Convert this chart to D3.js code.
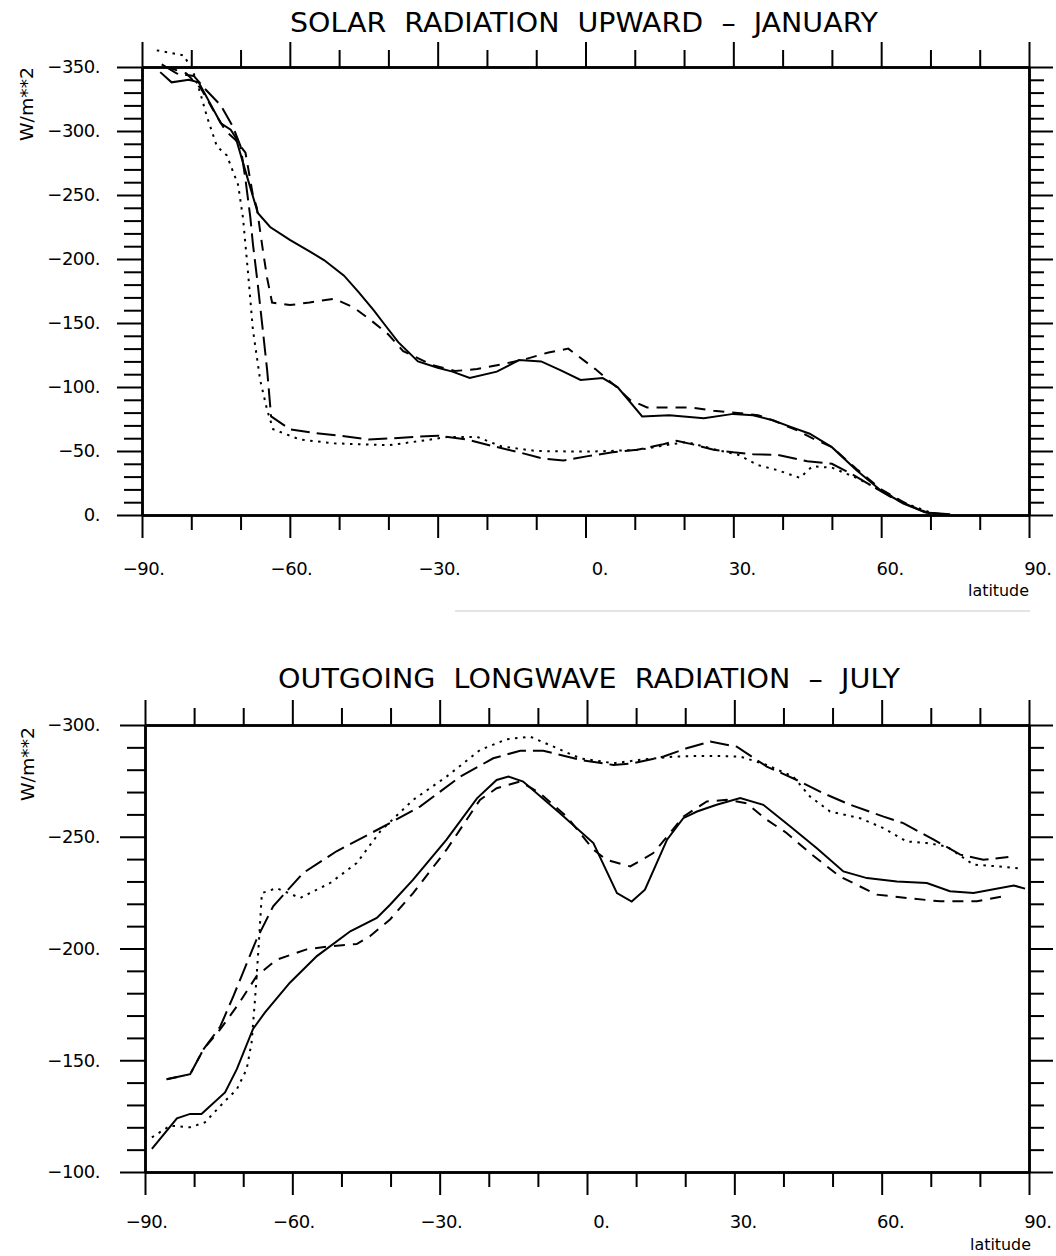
<!DOCTYPE html>
<meta charset="utf-8">

<style>
body{
	background-color: #fff;
	margin: 0px;
}
svg{ display: block; }
text{
	font-family: "DejaVu Sans", sans-serif;
	fill: #000;
}
.axis path, .axis line{
	stroke: #000;
}
</style>

<body></body>

<script src="https://cdn.jsdelivr.net/npm/d3@7/dist/d3.min.js"></script>

<script>

var width = 1056,
		height = 1256

// latitude ticks (shared by both panels)
var latMajor = [-90, -60, -30, 0, 30, 60, 90]
var latMinor = [-80, -70, -50, -40, -20, -10, 10, 20, 40, 50, 70, 80]

// ---- panel 1: solar radiation upward, january  [latitude, W/m**2]
var swMajor = [0, -50, -100, -150, -200, -250, -300, -350]

var swSolid = [[-86.3,-346],[-84,-338],[-80.5,-340],[-78.5,-338],[-74,-306],[-72,-301],[-71,-295],
	[-68.5,-262],[-66.5,-236],[-64,-225],[-60,-215],[-56,-206],[-53,-199],[-49,-187],[-46,-174],
	[-43,-160],[-41,-150],[-38,-135],[-34,-120],[-30,-115],[-27,-112],[-23.5,-107],[-18,-112],
	[-13.5,-121],[-9,-120],[-5,-113],[-1,-105.5],[3.5,-107],[6.5,-100],[11.5,-77],[17,-78],
	[24,-75.5],[30,-79],[34,-78],[38,-74],[41.5,-69],[45.5,-63.5],[50,-53],[55,-35],[60,-19],
	[64.5,-9],[69,-2],[74,-0.5]]

var swShort = [[-85,-350],[-81,-345],[-78,-333],[-75.5,-316],[-73,-300],[-71,-293],[-69,-283],
	[-67.5,-250],[-66.7,-240],[-65.4,-205],[-64.6,-185],[-63.6,-166],[-60,-164],[-56,-166],
	[-51,-169],[-47,-162],[-43.5,-152],[-40,-141],[-37,-128],[-31,-117],[-26.5,-112.5],[-22,-114],
	[-16,-118.5],[-12,-122],[-7.5,-127],[-3.5,-130],[2,-114],[6,-101],[9,-90],[12.5,-84],[16,-84],
	[21.5,-84],[26,-81.5],[31.5,-79.5],[35,-78],[38,-74],[43,-66],[46,-60],[50,-53],[55,-36],
	[60,-20],[65,-9],[69,-2],[73,-0.5]]

var swLong = [[-86,-352],[-83,-345],[-79.5,-343],[-77,-332],[-74,-320],[-71.5,-303],[-70,-288],
	[-69,-262],[-68,-232],[-67.5,-212],[-66.5,-180],[-65.5,-145],[-64.6,-113],[-63.8,-77],[-60,-67],
	[-55,-64],[-50,-62],[-44,-59],[-39,-60],[-35,-61],[-30,-62],[-24,-59],[-19,-54],[-13.5,-49],
	[-8.5,-44],[-4.5,-42.5],[0.5,-46],[5.5,-49],[10.5,-51],[15.5,-55],[18.5,-58],[22,-55],[26,-51],
	[30,-49],[34,-47.5],[39,-47],[45,-42],[50,-40],[54,-32],[58,-23],[62,-14],[66,-7],[70,-1]]

var swDot = [[-87,-363],[-81.5,-359],[-79.6,-346],[-78.2,-330],[-76.8,-311],[-74.8,-288],[-72.8,-281],
	[-70.5,-258],[-69.5,-232],[-68.5,-190],[-67.5,-145],[-66,-105],[-64.6,-82],[-63.4,-67],[-58,-59],
	[-51,-56],[-44,-55],[-40,-54.5],[-32,-58.6],[-28,-61],[-22,-61],[-17,-53.5],[-10,-50],[0,-49.5],
	[5,-50],[11,-51],[17,-55],[20.5,-57],[26.5,-51],[31,-47],[35,-39],[39,-35],[43.5,-29],[46,-38],
	[50,-37],[55,-29],[60,-19],[65,-9],[70,-2]]

// ---- panel 2: outgoing longwave radiation, july  [latitude, W/m**2]
var lwMajor = [-100, -150, -200, -250, -300]

var lwSolid = [[-88.6,-110.3],[-83.5,-124],[-80.8,-126],[-78.5,-126],[-73.7,-135.6],[-71.3,-146],
	[-68,-164],[-65.6,-171.3],[-60.5,-184.7],[-55,-196.6],[-48.2,-207.7],[-42.8,-213.7],[-40.1,-219.6],
	[-35.4,-230.8],[-28.6,-248.7],[-22.4,-267.2],[-18.4,-275.4],[-16,-276.9],[-13,-274.7],[-5.5,-260.5],
	[1.3,-247.2],[6.1,-224.8],[9.1,-221],[11.8,-226.3],[16.3,-248.7],[19.6,-258.3],[22.4,-261.3],
	[26.4,-264.3],[31.2,-267.3],[35.9,-264.3],[41.4,-254.6],[46.8,-244.9],[52.2,-234.5],[57,-231.5],
	[63.1,-230],[69.2,-229.3],[73.9,-225.6],[78.7,-224.8],[86.9,-228.2],[89.2,-226.8]]

var lwShort = [[-85.6,-141.5],[-80.8,-143.8],[-78.1,-154.9],[-74.7,-163.8],[-71,-175],[-67.3,-187.6],
	[-63.2,-195],[-57.1,-199.6],[-52.3,-201],[-46.9,-202],[-44.2,-205.5],[-40.1,-213],[-35.4,-224.8],
	[-28.6,-244.2],[-21.8,-266.5],[-18.4,-271.7],[-13.6,-274.7],[-9.6,-269.5],[-4.1,-259],[1.3,-244.2],
	[4,-239.7],[8.8,-236.7],[13.5,-242.7],[16.9,-251.6],[19.6,-259],[24.4,-265.8],[28.5,-266.5],
	[32.5,-265],[36.6,-257.6],[40.7,-251.6],[45.4,-242.7],[51.5,-232.2],[59,-224.1],[65.1,-222.6],
	[71.9,-221.1],[79.4,-221.1],[84.8,-223.4]]

var lwLong = [[-85.6,-141.5],[-80.8,-143.8],[-78.1,-154.9],[-74.7,-165],[-72,-178.7],[-67.3,-204],
	[-63.9,-218.9],[-57.8,-233.8],[-51,-243.5],[-42.1,-253.8],[-34,-263.5],[-25.8,-276.9],[-19.1,-285.1],
	[-13.6,-288.5],[-8.9,-288.5],[-1.4,-284.4],[5.4,-282.1],[9.5,-282.9],[15.6,-285.9],[20.3,-289.6],
	[25.1,-292.6],[30.5,-290.3],[36.6,-281.4],[42.7,-275.4],[48.1,-269.5],[53.6,-264.3],[60.4,-259],
	[64.4,-256.1],[70.6,-248.7],[76,-242],[80.7,-239.7],[85.8,-240.9]]

var lwDot = [[-88.6,-115.5],[-84.9,-120.7],[-80.8,-120],[-77.8,-122.2],[-74,-131.1],[-71.3,-137],
	[-69.3,-146],[-68.3,-157.9],[-67.6,-177.2],[-66.9,-199.6],[-66.2,-224.8],[-63.2,-227],[-58.4,-222.6],
	[-52.3,-229.3],[-46.9,-238.2],[-42.1,-252.4],[-35.4,-266.5],[-28.6,-276.9],[-21.8,-288.8],
	[-16.4,-293.6],[-11.6,-294.8],[-6.8,-290.3],[-1.4,-285.1],[5.4,-282.9],[10.8,-284.4],[17.6,-285.9],
	[24.4,-286.2],[31.2,-285.9],[36.6,-282.1],[42,-276.9],[45.4,-268],[49.5,-261.3],[55.6,-258.3],
	[60.4,-253.8],[65.1,-247.9],[69.2,-247.2],[73.3,-245.6],[78.7,-237.5],[84.1,-236.7],[88.5,-235.7]]

// solid, short dash, long dash, dotted
var dashes = [null, '11,8', '19,7', '2.5,5.5']


var svg = d3.select('body')
	.append('svg')
		.attr('width', width)
		.attr('height', height)

function fmt(v){
	return (v < 0 ? '\u2212' : '') + Math.abs(v) + '.'
}

function drawPanel(p){
	var x = d3.scaleLinear().domain([-90, 90]).range([p.left, p.right])
	var y = d3.scaleLinear().domain(p.yDomain).range([p.bottom, p.top])
	var yMinor = d3.range(p.yDomain[1], p.yDomain[0] + 1, 10).filter(function(v){ return v % 50 != 0 })

	var g = svg.append('g')

	var line = d3.line()
		.x(function(d){ return x(d[0]) })
		.y(function(d){ return y(d[1]) })

	p.series.forEach(function(s, i){
		g.append('path')
			.attr('d', line(s))
			.attr('fill', 'none')
			.attr('stroke', '#000')
			.attr('stroke-width', 2)
			.attr('stroke-dasharray', dashes[i])
	})

	function axis(a, tr, size, labels){
		var ax = g.append('g').attr('class', 'axis').attr('transform', tr)
			.call(a.tickSize(size).tickSizeOuter(0).tickFormat(labels ? fmt : ''))
		ax.selectAll('line').attr('stroke-width', 2)
		ax.select('.domain').attr('stroke-width', 2.5)
		ax.selectAll('text').attr('font-size', 18).attr('letter-spacing', -0.5)
		return ax
	}

	// left
	axis(d3.axisLeft(y).tickValues(yMinor), 'translate(' + p.left + ',0)', 18, false)
	axis(d3.axisLeft(y).tickValues(p.yMajor).tickPadding(p.yPad), 'translate(' + p.left + ',0)', 25, true)
	// right
	axis(d3.axisRight(y).tickValues(yMinor), 'translate(' + p.right + ',0)', 15, false)
	axis(d3.axisRight(y).tickValues(p.yMajor), 'translate(' + p.right + ',0)', 24, false)
	// top
	axis(d3.axisTop(x).tickValues(latMinor), 'translate(0,' + p.top + ')', 17, false)
	axis(d3.axisTop(x).tickValues(latMajor), 'translate(0,' + p.top + ')', 25, false)
	// bottom
	axis(d3.axisBottom(x).tickValues(latMinor), 'translate(0,' + p.bottom + ')', 15, false)
	var bx = axis(d3.axisBottom(x).tickValues(latMajor), 'translate(0,' + p.bottom + ')', 23, true)
	bx.selectAll('text')
		.attr('text-anchor', 'end')
		.attr('x', 22)
		.attr('dy', null)
		.attr('y', p.xLabelY)

	// title
	g.append('text')
		.attr('x', p.titleX)
		.attr('y', p.titleY)
		.attr('font-size', 26)
		.attr('textLength', p.titleLen)
		.attr('lengthAdjust', 'spacingAndGlyphs')
		.style('white-space', 'pre')
		.text(p.title)

	// y label
	g.append('text')
		.attr('transform', 'translate(' + p.yLabX + ',' + p.yLabY + ') rotate(-90)')
		.attr('text-anchor', 'end')
		.attr('font-size', 18)
		.attr('textLength', 74)
		.attr('lengthAdjust', 'spacingAndGlyphs')
		.text('W/m**2')

	// x label
	g.append('text')
		.attr('x', p.right + p.latDx)
		.attr('y', p.latY)
		.attr('text-anchor', 'end')
		.attr('font-size', 16)
		.attr('textLength', 61)
		.attr('lengthAdjust', 'spacingAndGlyphs')
		.text('latitude')
}

drawPanel({
	left: 142, right: 1029, top: 67, bottom: 515,
	yDomain: [0, -350], yMajor: swMajor, yPad: 17,
	series: [swSolid, swShort, swLong, swDot],
	xLabelY: 60,
	title: 'SOLAR  RADIATION  UPWARD  \u2013  JANUARY',
	titleX: 290, titleY: 32, titleLen: 588,
	yLabX: 33, yLabY: 67,
	latDx: 0, latY: 596
})

drawPanel({
	left: 145, right: 1029, top: 725, bottom: 1172,
	yDomain: [-100, -300], yMajor: lwMajor, yPad: 20,
	series: [lwSolid, lwShort, lwLong, lwDot],
	xLabelY: 56,
	title: 'OUTGOING  LONGWAVE  RADIATION  \u2013  JULY',
	titleX: 278, titleY: 688, titleLen: 622,
	yLabX: 34, yLabY: 727,
	latDx: 2, latY: 1250
})

// faint rule between the two panels
svg.append('line')
	.attr('x1', 455).attr('x2', 1030)
	.attr('y1', 611).attr('y2', 611)
	.attr('stroke', '#c8c8c8')
	.attr('stroke-width', 1)

</script>
